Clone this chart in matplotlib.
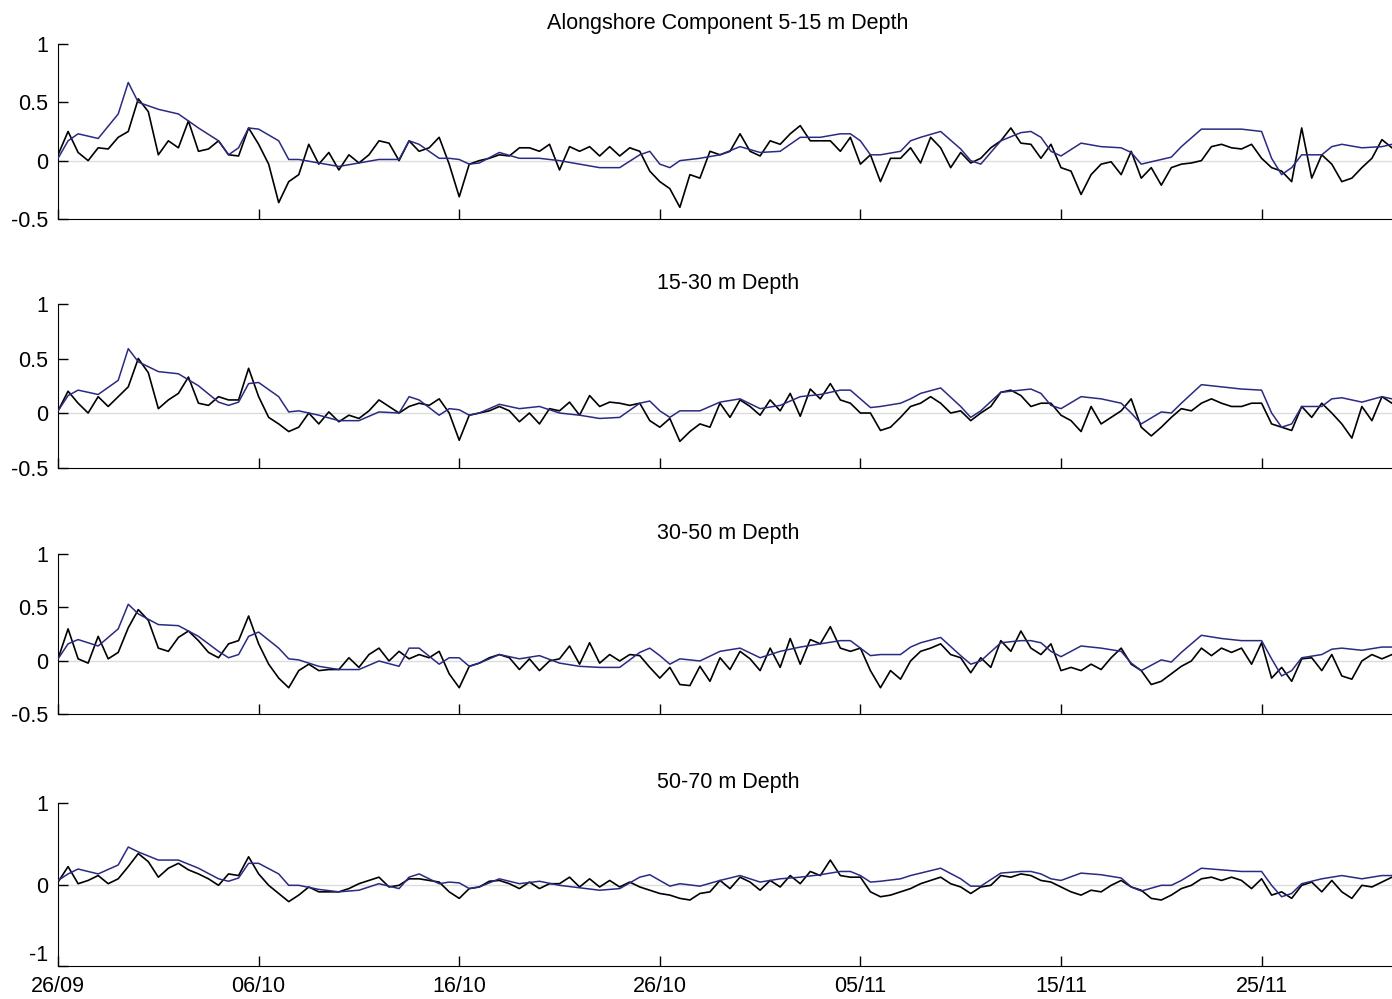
import numpy as np
import matplotlib.pyplot as plt

plt.rcParams['font.family'] = ['Liberation Sans', 'DejaVu Sans']

# half-day samples of the raw alongshore velocity, days from 26/09
days_raw = np.arange(0, 67, 0.5)

raw_5_15 = [0.05, 0.25, 0.07, 0.00, 0.11, 0.10, 0.20, 0.25, 0.53, 0.42,
            0.05, 0.17, 0.11, 0.34, 0.08, 0.10, 0.17, 0.05, 0.04, 0.28,
            0.14, -0.03, -0.36, -0.18, -0.12, 0.14, -0.03, 0.07, -0.08, 0.05,
            -0.02, 0.05, 0.17, 0.15, 0.00, 0.17, 0.08, 0.11, 0.20, -0.03,
            -0.31, -0.03, 0.00, 0.02, 0.05, 0.04, 0.11, 0.11, 0.08, 0.14,
            -0.08, 0.12, 0.08, 0.12, 0.04, 0.12, 0.04, 0.11, 0.08, -0.09,
            -0.18, -0.24, -0.40, -0.12, -0.15, 0.08, 0.05, 0.08, 0.23, 0.08,
            0.04, 0.17, 0.14, 0.23, 0.30, 0.17, 0.17, 0.17, 0.08, 0.20,
            -0.03, 0.05, -0.18, 0.02, 0.02, 0.11, -0.02, 0.20, 0.11, -0.06,
            0.07, -0.02, 0.02, 0.11, 0.17, 0.28, 0.15, 0.14, 0.02, 0.14,
            -0.06, -0.09, -0.29, -0.12, -0.03, -0.01, -0.12, 0.08, -0.15, -0.06,
            -0.21, -0.06, -0.03, -0.02, 0.00, 0.12, 0.14, 0.11, 0.10, 0.14,
            0.02, -0.06, -0.09, -0.18, 0.28, -0.15, 0.05, -0.03, -0.18, -0.15,
            -0.06, 0.02, 0.18, 0.11]

raw_15_30 = [0.02, 0.20, 0.09, 0.00, 0.15, 0.06, 0.15, 0.24, 0.50, 0.37,
             0.04, 0.12, 0.18, 0.33, 0.09, 0.07, 0.15, 0.12, 0.12, 0.41,
             0.15, -0.04, -0.10, -0.17, -0.13, 0.00, -0.10, 0.01, -0.08, -0.02,
             -0.05, 0.02, 0.12, 0.06, 0.00, 0.06, 0.09, 0.07, 0.13, 0.00,
             -0.25, -0.02, 0.00, 0.02, 0.06, 0.02, -0.08, 0.00, -0.10, 0.04,
             0.02, 0.10, -0.02, 0.16, 0.06, 0.10, 0.09, 0.07, 0.09, -0.07,
             -0.13, -0.05, -0.26, -0.17, -0.10, -0.13, 0.09, -0.04, 0.12, 0.06,
             -0.02, 0.12, 0.02, 0.18, -0.03, 0.22, 0.13, 0.27, 0.12, 0.09,
             0.00, 0.00, -0.16, -0.13, -0.04, 0.06, 0.09, 0.15, 0.09, 0.00,
             0.02, -0.07, 0.00, 0.06, 0.19, 0.21, 0.16, 0.06, 0.09, 0.09,
             -0.02, -0.07, -0.17, 0.06, -0.10, -0.04, 0.02, 0.13, -0.13, -0.21,
             -0.13, -0.04, 0.04, 0.02, 0.09, 0.13, 0.09, 0.06, 0.06, 0.09,
             0.09, -0.10, -0.13, -0.16, 0.06, -0.04, 0.09, 0.00, -0.10, -0.23,
             0.06, -0.07, 0.15, 0.09]

raw_30_50 = [0.02, 0.30, 0.02, -0.02, 0.23, 0.02, 0.08, 0.31, 0.48, 0.38,
             0.12, 0.09, 0.22, 0.28, 0.19, 0.08, 0.03, 0.16, 0.19, 0.42,
             0.16, -0.03, -0.16, -0.25, -0.09, -0.03, -0.09, -0.08, -0.08, 0.03,
             -0.06, 0.06, 0.12, 0.00, 0.09, 0.02, 0.06, 0.03, 0.09, -0.12,
             -0.25, -0.05, -0.02, 0.03, 0.06, 0.03, -0.08, 0.02, -0.09, 0.00,
             0.02, 0.14, -0.03, 0.17, -0.02, 0.06, 0.00, 0.06, 0.05, -0.06,
             -0.16, -0.06, -0.22, -0.23, -0.05, -0.19, 0.03, -0.08, 0.09, 0.02,
             -0.09, 0.12, -0.06, 0.21, -0.03, 0.20, 0.16, 0.32, 0.12, 0.09,
             0.12, -0.09, -0.25, -0.09, -0.17, 0.00, 0.09, 0.12, 0.16, 0.06,
             0.03, -0.11, 0.03, -0.06, 0.19, 0.09, 0.28, 0.12, 0.06, 0.16,
             -0.09, -0.06, -0.09, -0.03, -0.08, 0.03, 0.12, -0.03, -0.09, -0.22,
             -0.19, -0.12, -0.05, 0.00, 0.12, 0.05, 0.12, 0.08, 0.12, -0.03,
             0.17, -0.16, -0.06, -0.19, 0.02, 0.03, -0.09, 0.06, -0.14, -0.17,
             0.00, 0.06, 0.02, 0.06]

raw_50_70 = [0.03, 0.22, 0.01, 0.05, 0.11, 0.01, 0.07, 0.22, 0.38, 0.28,
             0.09, 0.20, 0.26, 0.18, 0.13, 0.07, -0.01, 0.13, 0.11, 0.34,
             0.13, -0.01, -0.11, -0.21, -0.13, -0.03, -0.09, -0.09, -0.09, -0.05,
             0.01, 0.05, 0.09, -0.03, -0.01, 0.07, 0.07, 0.05, 0.03, -0.09,
             -0.17, -0.05, -0.03, 0.04, 0.05, 0.01, -0.05, 0.03, -0.05, 0.01,
             0.01, 0.09, -0.03, 0.07, -0.03, 0.05, -0.03, 0.03, -0.03, -0.07,
             -0.11, -0.13, -0.17, -0.19, -0.11, -0.09, 0.05, -0.05, 0.09, 0.03,
             -0.07, 0.05, -0.03, 0.11, 0.01, 0.16, 0.11, 0.30, 0.11, 0.09,
             0.09, -0.09, -0.15, -0.13, -0.09, -0.05, 0.01, 0.05, 0.09, 0.01,
             -0.03, -0.11, -0.03, -0.01, 0.11, 0.09, 0.13, 0.11, 0.05, 0.03,
             -0.03, -0.09, -0.13, -0.07, -0.09, -0.01, 0.05, -0.03, -0.07, -0.17,
             -0.19, -0.13, -0.05, -0.01, 0.07, 0.09, 0.05, 0.09, 0.05, -0.05,
             0.07, -0.13, -0.09, -0.17, -0.01, 0.03, -0.09, 0.05, -0.09, -0.17,
             -0.01, -0.03, 0.03, 0.09]

# low-pass filtered series
days_lp = [0, 0.5, 1, 2, 3, 3.5, 4, 5, 6, 7,
           8, 8.5, 9, 9.5, 10, 11, 11.5, 12, 13, 14,
           15, 16, 17, 17.5, 18, 19, 19.5, 20, 20.5, 21,
           22, 23, 24, 25, 26, 27, 28, 29, 29.5, 30,
           30.5, 31, 32, 33, 34, 35, 36, 37, 38, 39,
           39.5, 40, 40.5, 41, 42, 42.5, 43, 44, 45, 45.5,
           46, 47, 48, 48.5, 49, 49.5, 50, 51, 52, 53,
           53.5, 54, 55, 55.5, 56, 57, 58, 59, 60, 60.5,
           61, 61.5, 62, 63, 63.5, 64, 65, 66, 66.5]

lp_5_15 = [0.02, 0.17, 0.23, 0.19, 0.40, 0.67, 0.50, 0.44, 0.40, 0.28,
           0.17, 0.05, 0.11, 0.28, 0.27, 0.17, 0.01, 0.01, -0.02, -0.05,
           -0.02, 0.01, 0.01, 0.17, 0.14, 0.02, 0.02, 0.01, -0.03, -0.02,
           0.07, 0.02, 0.02, 0.00, -0.03, -0.06, -0.06, 0.05, 0.08, -0.03,
           -0.06, 0.00, 0.02, 0.05, 0.12, 0.07, 0.08, 0.20, 0.20, 0.23,
           0.23, 0.17, 0.05, 0.05, 0.08, 0.17, 0.20, 0.25, 0.10, 0.00,
           -0.03, 0.17, 0.24, 0.25, 0.20, 0.08, 0.04, 0.15, 0.12, 0.11,
           0.07, -0.03, 0.01, 0.03, 0.12, 0.27, 0.27, 0.27, 0.25, 0.02,
           -0.12, -0.06, 0.05, 0.05, 0.12, 0.14, 0.11, 0.12, 0.14]

lp_15_30 = [0.02, 0.16, 0.21, 0.17, 0.30, 0.59, 0.47, 0.38, 0.36, 0.25,
            0.10, 0.07, 0.10, 0.27, 0.28, 0.15, 0.01, 0.02, -0.02, -0.07,
            -0.07, 0.01, 0.00, 0.15, 0.12, -0.02, 0.04, 0.03, -0.02, 0.00,
            0.08, 0.04, 0.06, 0.00, -0.02, -0.05, -0.04, 0.09, 0.11, 0.02,
            -0.04, 0.02, 0.02, 0.10, 0.13, 0.04, 0.07, 0.15, 0.17, 0.21,
            0.21, 0.13, 0.05, 0.06, 0.09, 0.13, 0.18, 0.23, 0.06, -0.04,
            0.02, 0.19, 0.21, 0.22, 0.18, 0.07, 0.04, 0.15, 0.13, 0.09,
            0.00, -0.10, 0.01, 0.00, 0.09, 0.26, 0.24, 0.22, 0.21, 0.00,
            -0.13, -0.10, 0.06, 0.06, 0.13, 0.14, 0.10, 0.15, 0.13]

lp_30_50 = [0.02, 0.16, 0.20, 0.14, 0.30, 0.53, 0.44, 0.34, 0.33, 0.23,
            0.09, 0.03, 0.06, 0.23, 0.27, 0.12, 0.02, 0.01, -0.05, -0.08,
            -0.08, 0.00, -0.05, 0.12, 0.12, -0.03, 0.03, 0.03, -0.05, -0.02,
            0.06, 0.02, 0.05, -0.02, -0.05, -0.06, -0.06, 0.08, 0.12, 0.05,
            -0.03, 0.02, 0.00, 0.09, 0.12, 0.03, 0.09, 0.13, 0.16, 0.19,
            0.19, 0.12, 0.05, 0.06, 0.06, 0.13, 0.17, 0.22, 0.05, -0.03,
            0.00, 0.17, 0.19, 0.19, 0.17, 0.09, 0.04, 0.14, 0.12, 0.09,
            -0.02, -0.09, 0.01, -0.01, 0.08, 0.24, 0.21, 0.19, 0.19, 0.02,
            -0.14, -0.09, 0.03, 0.06, 0.11, 0.12, 0.10, 0.13, 0.13]

lp_50_70 = [0.05, 0.13, 0.19, 0.13, 0.24, 0.46, 0.40, 0.30, 0.30, 0.20,
            0.07, 0.04, 0.08, 0.26, 0.26, 0.13, -0.01, -0.01, -0.06, -0.09,
            -0.07, 0.01, -0.05, 0.09, 0.13, 0.01, 0.03, 0.02, -0.05, -0.03,
            0.07, 0.01, 0.04, -0.01, -0.04, -0.07, -0.05, 0.09, 0.12, 0.05,
            -0.02, 0.01, -0.02, 0.05, 0.11, 0.03, 0.07, 0.09, 0.12, 0.16,
            0.16, 0.11, 0.03, 0.04, 0.07, 0.11, 0.14, 0.20, 0.07, -0.02,
            -0.02, 0.14, 0.16, 0.16, 0.13, 0.07, 0.05, 0.14, 0.12, 0.08,
            -0.03, -0.08, -0.01, -0.01, 0.05, 0.20, 0.18, 0.16, 0.16, -0.01,
            -0.15, -0.11, 0.01, 0.07, 0.09, 0.11, 0.07, 0.11, 0.11]

titles = ['Alongshore Component 5-15 m Depth', '15-30 m Depth',
          '30-50 m Depth', '50-70 m Depth']
date_ticks = [0, 10, 20, 30, 40, 50, 60]
date_labels = ['26/09', '06/10', '16/10', '26/10', '05/11', '15/11', '25/11']

raws = [raw_5_15, raw_15_30, raw_30_50, raw_50_70]
lps = [lp_5_15, lp_15_30, lp_30_50, lp_50_70]

# axes boxes (left, bottom, width, height) in figure fraction
boxes = [(0.0417, 0.7808, 0.9626, 0.1752),
         (0.0417, 0.5320, 0.9626, 0.1637),
         (0.0417, 0.2848, 0.9626, 0.1607),
         (0.0417, 0.0330, 0.9626, 0.1632)]

fig = plt.figure(figsize=(13.92, 9.99), dpi=100)

for i in range(4):
    ax = fig.add_axes(boxes[i])
    ax.axhline(0, color='#dcdcdc', lw=1.0, zorder=0)
    ax.plot(days_raw, raws[i], color='black', lw=1.2, zorder=2)
    ax.plot(days_lp, lps[i], color='#2a2a82', lw=1.1, zorder=3)
    ax.set_xlim(0, 66.8)
    if i < 3:
        ax.set_ylim(-0.5, 1)
        ax.set_yticks([-0.5, 0, 0.5, 1])
        ax.set_yticklabels(['-0.5', '0', '0.5', '1'])
    else:
        ax.set_ylim(-1, 1)
        ax.set_yticks([-1, 0, 1])
        ax.set_yticklabels(['-1', '0', '1'])
        # lift the bottom label so it sits above the first date
        ax.get_yticklabels()[0].set_verticalalignment('bottom')
    ax.set_xticks(date_ticks)
    if i == 3:
        ax.set_xticklabels(date_labels)
    else:
        ax.set_xticklabels([])
    ax.spines['top'].set_visible(False)
    ax.spines['right'].set_visible(False)
    ax.tick_params(direction='in', length=7, width=1, labelsize=15.5, pad=7)
    ax.set_title(titles[i], fontsize=15.5, pad=11)

fig.savefig('out.png', dpi=100)
